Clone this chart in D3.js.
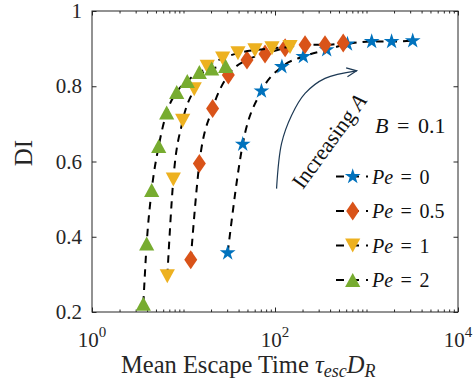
<!DOCTYPE html>
<html>
<head>
<meta charset="utf-8">
<script src="https://cdn.jsdelivr.net/npm/d3@7"></script>
<style>
  body { margin: 0; background: #fff; }
  svg { display: block; }
</style>
</head>
<body>
<script>
// values (tau_esc * D_R vs DI), one pair of arrays per Pe
const peLabels = ["0", "0.5", "1", "2"];
const tauPe0 = [30.4, 44.4, 71.1, 119, 204, 367, 620, 1140, 1880, 3200];
const diPe0 = [0.357, 0.646, 0.787, 0.852, 0.879, 0.897, 0.912, 0.919, 0.919, 0.921];
const tauPe05 = [12.0, 14.9, 20.8, 30.9, 49.4, 77.8, 129, 213, 352, 557];
const diPe05 = [0.339, 0.595, 0.741, 0.830, 0.870, 0.886, 0.902, 0.910, 0.910, 0.915];
const tauPe1 = [6.65, 7.74, 9.8, 13.1, 18.2, 26.8, 39.4, 60.4, 92.7, 146];
const diPe1 = [0.295, 0.552, 0.708, 0.792, 0.852, 0.874, 0.888, 0.896, 0.901, 0.904];
const tauPe2 = [3.64, 3.96, 4.49, 5.36, 6.55, 8.43, 11.0, 14.9, 20.3, 28.9];
const diPe2 = [0.222, 0.382, 0.524, 0.641, 0.730, 0.785, 0.814, 0.838, 0.847, 0.854];

const xMajorTicks = [1, 100, 10000];
const xTickExp = ["0", "2", "4"];
const yTicks = [0.2, 0.4, 0.6, 0.8, 1];
const yTickLabels = ["0.2", "0.4", "0.6", "0.8", "1"];

// the "Increasing A" arrow, in data coordinates
const arrowTau = [104, 118, 152, 213, 352, 781];
const arrowDI = [0.528, 0.648, 0.723, 0.781, 0.821, 0.841];

const colors = ["#0072BD", "#D95319", "#EDB120", "#77AC30"];
const shapes = ["star", "diamond", "triDown", "triUp"];

const series = [
  { tau: tauPe0, di: diPe0 },
  { tau: tauPe05, di: diPe05 },
  { tau: tauPe1, di: diPe1 },
  { tau: tauPe2, di: diPe2 }
];

const width = 476, height = 383;
const margin = { left: 92, top: 11 };
const W = 366, H = 301;
const serif = "'Liberation Serif', 'Times New Roman', serif";
const ink = "#262626";

// marker outlines, centred on 0,0
function markerPath(kind) {
  if (kind === "star") {
    let R = 8.3, r = R * 0.382, p = [];
    for (let i = 0; i < 10; i++) {
      let a = -Math.PI / 2 + i * Math.PI / 5;
      let rr = i % 2 === 0 ? R : r;
      p.push([rr * Math.cos(a), rr * Math.sin(a)]);
    }
    return "M" + p.map(d => d.join(",")).join("L") + "Z";
  }
  if (kind === "diamond") return "M0,-9.5L6.5,0L0,9.5L-6.5,0Z";
  if (kind === "triUp") return "M0,-7L7.6,7L-7.6,7Z";
  return "M0,7L7.6,-7L-7.6,-7Z";
}

const svg = d3.select("body").append("svg")
  .attr("width", width)
  .attr("height", height);

svg.append("rect").attr("width", width).attr("height", height).attr("fill", "#fff");

const defs = svg.append("defs");
defs.append("marker")
  .attr("id", "arrowhead")
  .attr("viewBox", "-11 -6 13 12")
  .attr("refX", 0).attr("refY", 0)
  .attr("markerWidth", 13).attr("markerHeight", 12)
  .attr("markerUnits", "userSpaceOnUse")
  .attr("orient", "auto")
  .append("path")
  .attr("d", "M-10,-4.5L0,0L-10,4.5")
  .attr("fill", "none")
  .attr("stroke", "#1d3954")
  .attr("stroke-width", 1.2);

const g = svg.append("g").attr("transform", "translate(" + margin.left + "," + margin.top + ")");

const x = d3.scaleLog().domain([1, 10000]).range([0, W]);
const y = d3.scaleLinear().domain([0.2, 1]).range([H, 0]);

const xMinorTicks = x.ticks().filter(t => xMajorTicks.indexOf(t) < 0);

// ticks: inward, on all four sides
function styleAxis(sel) {
  sel.select(".domain").remove();
  sel.selectAll("line").attr("stroke", ink);
  sel.selectAll("text").attr("font-family", serif).attr("font-size", 21).attr("fill", ink);
}

g.append("g").attr("transform", "translate(0," + H + ")")
  .call(d3.axisBottom(x).tickValues(xMajorTicks).tickSize(-4.5).tickFormat(""))
  .call(styleAxis);
g.append("g").attr("transform", "translate(0," + H + ")")
  .call(d3.axisBottom(x).tickValues(xMinorTicks).tickSize(-2.5).tickFormat(""))
  .call(styleAxis);
g.append("g")
  .call(d3.axisTop(x).tickValues(xMajorTicks).tickSize(-4.5).tickFormat(""))
  .call(styleAxis);
g.append("g")
  .call(d3.axisTop(x).tickValues(xMinorTicks).tickSize(-2.5).tickFormat(""))
  .call(styleAxis);
g.append("g")
  .call(d3.axisLeft(y).tickValues(yTicks).tickSize(-4.5).tickPadding(10)
    .tickFormat((d, i) => yTickLabels[i]))
  .call(styleAxis);
g.append("g").attr("transform", "translate(" + W + ",0)")
  .call(d3.axisRight(y).tickValues(yTicks).tickSize(-4.5).tickFormat(""))
  .call(styleAxis);

// x tick labels as 10^n
const xl = g.selectAll(".xlab").data(xMajorTicks).enter()
  .append("text")
  .attr("class", "xlab")
  .attr("x", d => x(d))
  .attr("y", H + 35)
  .attr("text-anchor", "middle")
  .attr("font-family", serif)
  .attr("font-size", 21)
  .attr("fill", ink);
xl.append("tspan").text("10");
xl.append("tspan").attr("font-size", 15).attr("dy", -10).text((d, i) => xTickExp[i]);

g.append("rect")
  .attr("width", W).attr("height", H)
  .attr("fill", "none")
  .attr("stroke", ink)
  .attr("stroke-width", 1);

// dashed fits + markers, series by series
const line = d3.line()
  .x(d => x(d[0]))
  .y(d => y(d[1]))
  .curve(d3.curveMonotoneX);

series.forEach(function (s, k) {
  let pts = s.tau.map((t, i) => [t, s.di[i]]);
  g.append("path")
    .attr("d", line(pts))
    .attr("fill", "none")
    .attr("stroke", "#000")
    .attr("stroke-width", 2)
    .attr("stroke-dasharray", "7.5,6");
  g.selectAll(".m" + k).data(pts).enter()
    .append("path")
    .attr("class", "m" + k)
    .attr("transform", d => "translate(" + x(d[0]) + "," + y(d[1]) + ")")
    .attr("d", markerPath(shapes[k]))
    .attr("fill", colors[k]);
});

// arrow annotation
const arrowLine = d3.line()
  .x(d => x(d[0]))
  .y(d => y(d[1]))
  .curve(d3.curveCatmullRom.alpha(0.5));
g.append("path")
  .attr("d", arrowLine(arrowTau.map((t, i) => [t, arrowDI[i]])))
  .attr("fill", "none")
  .attr("stroke", "#1d3954")
  .attr("stroke-width", 1.2)
  .attr("marker-end", "url(#arrowhead)");

const inc = svg.append("text")
  .attr("transform", "translate(329,141) rotate(-54)")
  .attr("text-anchor", "middle")
  .attr("dy", "0.35em")
  .attr("font-family", serif)
  .attr("font-size", 22)
  .attr("fill", "#111");
inc.append("tspan").text("Increasing ");
inc.append("tspan").attr("font-style", "italic").text("A");

const bt = svg.append("text")
  .attr("x", 375).attr("y", 133)
  .attr("font-family", serif)
  .attr("font-size", 22)
  .attr("fill", "#111");
bt.append("tspan").attr("font-style", "italic").text("B");
bt.append("tspan").attr("dx", 3).text(" =");
bt.append("tspan").attr("dx", 3).text(" 0.1");

// legend
const legY = [176.5, 211, 245.5, 280];
const leg = svg.selectAll(".leg").data(peLabels).enter()
  .append("g")
  .attr("class", "leg")
  .attr("transform", (d, i) => "translate(0," + legY[i] + ")");
leg.append("line")
  .attr("x1", 336).attr("x2", 368)
  .attr("stroke", "#000")
  .attr("stroke-width", 2)
  .attr("stroke-dasharray", "8,7");
leg.append("path")
  .attr("transform", "translate(352.7,0)")
  .attr("d", (d, i) => markerPath(shapes[i]))
  .attr("fill", (d, i) => colors[i]);
const lt = leg.append("text")
  .attr("x", 372).attr("y", 7)
  .attr("font-family", serif)
  .attr("font-size", 20)
  .attr("fill", "#111");
lt.append("tspan").attr("font-style", "italic").text("Pe");
lt.append("tspan").attr("dx", 2.5).text(" =");
lt.append("tspan").attr("dx", 2.5).text(d => " " + d);

// axis labels
svg.append("text")
  .attr("transform", "translate(23,153) rotate(-90)")
  .attr("text-anchor", "middle")
  .attr("dy", "0.35em")
  .attr("font-family", serif)
  .attr("font-size", 25)
  .attr("fill", ink)
  .text("DI");

const xt = svg.append("text")
  .attr("x", 121).attr("y", 373)
  .attr("font-family", serif)
  .attr("font-size", 24.5)
  .attr("fill", ink);
xt.append("tspan").text("Mean Escape Time ");
xt.append("tspan").attr("font-style", "italic").text("τ");
xt.append("tspan").attr("font-style", "italic").attr("font-size", 18).attr("dy", 4).text("esc");
xt.append("tspan").attr("font-style", "italic").attr("dy", -4).text("D");
xt.append("tspan").attr("font-style", "italic").attr("font-size", 18).attr("dy", 4).text("R");
</script>
</body>
</html>
